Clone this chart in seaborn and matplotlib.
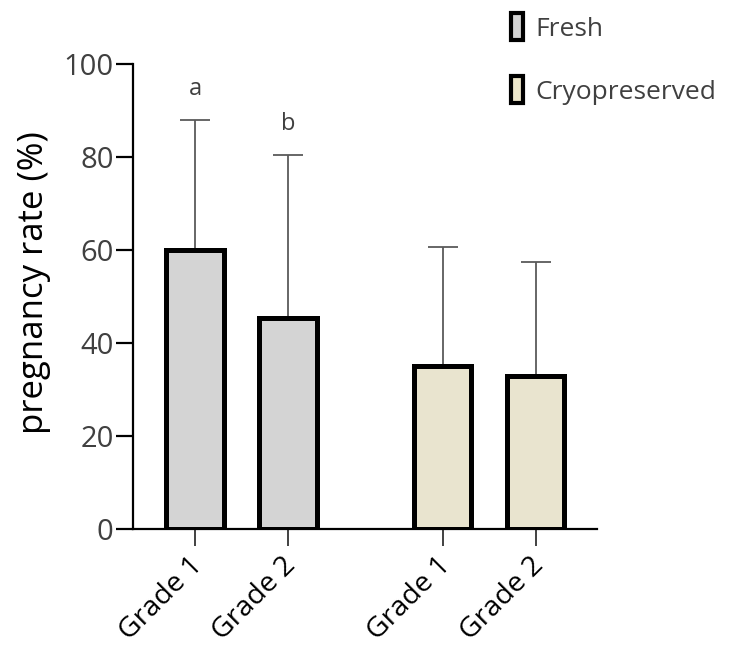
import matplotlib
matplotlib.use("Agg")
import matplotlib.pyplot as plt
import matplotlib.transforms as mtransforms
import seaborn as sns
import pandas as pd
import numpy as np
from matplotlib.patches import Patch

# ---- data ----
groups = ["Fresh", "Fresh", "Cryopreserved", "Cryopreserved"]
tick_labels = ["Grade 1", "Grade 2", "Grade 1", "Grade 2"]
means = [60, 45.3, 35, 33]
sds = [28, 35.2, 25.6, 24.5]
letters = ["a", "b", "", ""]
legend_labels = ["Fresh", "Cryopreserved"]

# ---- layout ----
positions = [0, 1, 2.66, 3.66]
colors = {"Fresh": "#d4d4d4", "Cryopreserved": "#ede7cb"}
text_color = "#404040"

sns.set_theme(style="white")
plt.rcParams["font.family"] = ["Open Sans", "DejaVu Sans"]

df = pd.DataFrame({"pos": positions, "mean": means, "group": groups})

fig = plt.figure(figsize=(7.29, 6.51), dpi=100)
ax = fig.add_axes([0.1824, 0.1874, 0.6366, 0.7143])

sns.barplot(data=df, x="pos", y="mean", hue="group", palette=colors,
            native_scale=True, dodge=False, width=0.62, errorbar=None,
            edgecolor="black", linewidth=3.6, legend=False, ax=ax, zorder=3)

ax.errorbar(positions, means, yerr=[np.zeros(len(sds)), sds], fmt="none",
            ecolor="#5a5a5a", elinewidth=1.3, capsize=11, capthick=1.3, zorder=2)

for p, m, s, l in zip(positions, means, sds, letters):
    if l:
        ax.text(p, m + s + 4, l, ha="center", va="bottom", fontsize=17, color=text_color)

ax.set_xlim(-0.667, 4.32)
ax.set_ylim(0, 100)
ax.set_yticks([0, 20, 40, 60, 80, 100])
ax.set_xticks(positions)
ax.set_xticklabels(tick_labels, rotation=45, ha="right", rotation_mode="anchor")
ax.set_xlabel("")
ax.set_ylabel("pregnancy rate (%)", fontsize=25, color="black")
ax.yaxis.set_label_coords(-0.177, 0.53)

for side in ["top", "right"]:
    ax.spines[side].set_visible(False)
for side in ["left", "bottom"]:
    ax.spines[side].set_color("black")
    ax.spines[side].set_linewidth(1.6)

ax.tick_params(axis="y", direction="out", length=12, width=1.6, color="black",
               labelsize=21, labelcolor=text_color, pad=2, left=True)
ax.tick_params(axis="x", direction="out", length=12, width=1.3, color="#333333",
               labelsize=20.5, labelcolor="black", pad=4, bottom=True)

offset = mtransforms.ScaledTranslation(-6 / 100, 0, fig.dpi_scale_trans)
for lab in ax.get_xticklabels():
    lab.set_transform(lab.get_transform() + offset)

handles = [Patch(facecolor=colors[g], edgecolor="black", linewidth=3.0) for g in legend_labels]
leg = fig.legend(handles, legend_labels, loc="upper left", bbox_to_anchor=(0.668, 1.016),
                 frameon=False, fontsize=19, handlelength=0.45, handleheight=1.2,
                 handletextpad=0.5, labelspacing=1.3, labelcolor=text_color)

fig.savefig("out.png", dpi=100)
